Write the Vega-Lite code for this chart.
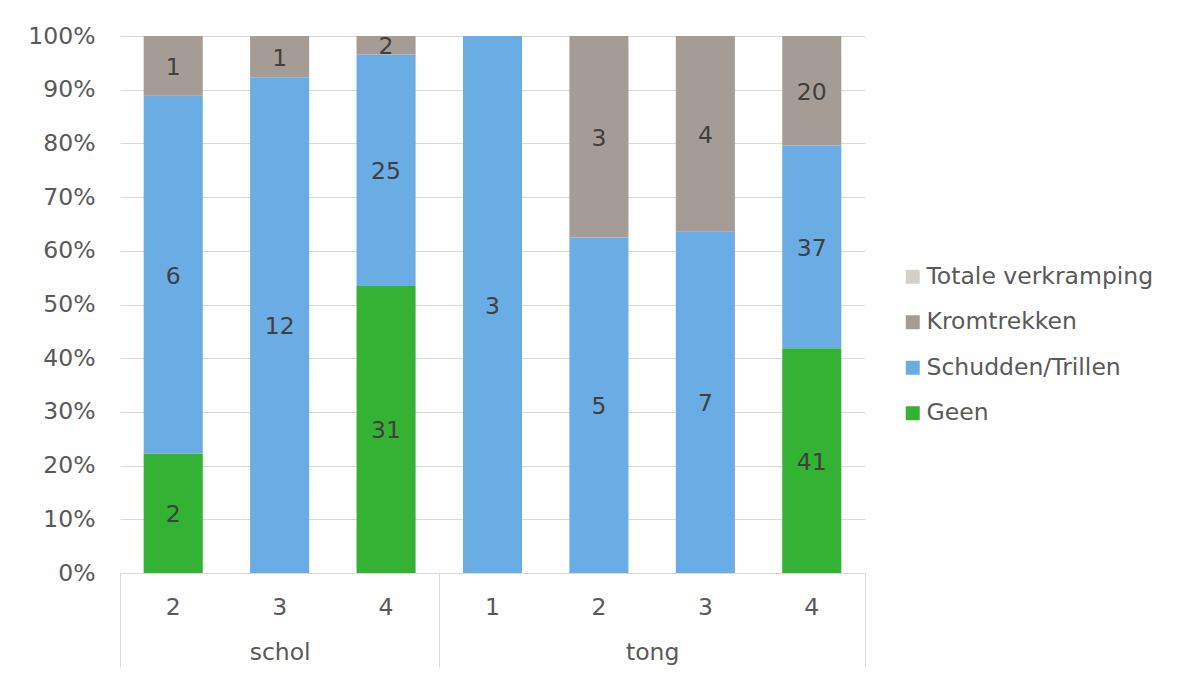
{
  "$schema": "https://vega.github.io/schema/vega-lite/v6.json",
  "width": 745,
  "height": 537,
  "autosize": {"type": "none"},
  "padding": {"left": 120, "top": 36, "right": 317, "bottom": 104},
  "background": "white",
  "config": {"font": "DejaVu Sans", "view": {"stroke": null}},
  "datasets": {
    "cats": [
      {"cat": "Geen", "rank": 1},
      {"cat": "Schudden/Trillen", "rank": 2},
      {"cat": "Kromtrekken", "rank": 3},
      {"cat": "Totale verkramping", "rank": 4}
    ]
  },
  "data": {
    "values": [
      {"key": "schol|2", "cat": "Geen", "n": 2},
      {"key": "schol|2", "cat": "Schudden/Trillen", "n": 6},
      {"key": "schol|2", "cat": "Kromtrekken", "n": 1},
      {"key": "schol|3", "cat": "Schudden/Trillen", "n": 12},
      {"key": "schol|3", "cat": "Kromtrekken", "n": 1},
      {"key": "schol|4", "cat": "Geen", "n": 31},
      {"key": "schol|4", "cat": "Schudden/Trillen", "n": 25},
      {"key": "schol|4", "cat": "Kromtrekken", "n": 2},
      {"key": "tong|1", "cat": "Schudden/Trillen", "n": 3},
      {"key": "tong|2", "cat": "Schudden/Trillen", "n": 5},
      {"key": "tong|2", "cat": "Kromtrekken", "n": 3},
      {"key": "tong|3", "cat": "Schudden/Trillen", "n": 7},
      {"key": "tong|3", "cat": "Kromtrekken", "n": 4},
      {"key": "tong|4", "cat": "Geen", "n": 41},
      {"key": "tong|4", "cat": "Schudden/Trillen", "n": 37},
      {"key": "tong|4", "cat": "Kromtrekken", "n": 20}
    ]
  },
  "layer": [
    {
      "transform": [
        {"lookup": "cat", "from": {"data": {"name": "cats"}, "key": "cat", "fields": ["rank"]}}
      ],
      "layer": [
        {
          "mark": {"type": "bar"},
          "encoding": {
            "x": {
              "field": "key", "type": "nominal",
              "scale": {"paddingInner": 0.445, "paddingOuter": 0.2225},
              "axis": {
                "title": null, "labelExpr": "split(datum.value, '|')[1]",
                "labelAngle": 0, "labelFontSize": 23.5, "labelColor": "#595959",
                "ticks": false, "tickSize": 0, "labelPadding": 22,
                "domainColor": "#d9d9d9", "domainWidth": 1, "grid": false
              }
            },
            "y": {
              "field": "n", "type": "quantitative", "stack": "normalize",
              "scale": {"domain": [0, 1], "nice": false},
              "axis": {
                "title": null, "format": ".0%",
                "values": [0, 0.1, 0.2, 0.3, 0.4, 0.5, 0.6, 0.7, 0.8, 0.9, 1],
                "labelFontSize": 23.5, "labelColor": "#595959",
                "domain": false, "ticks": false, "labelPadding": 25,
                "grid": true, "gridColor": "#d9d9d9", "gridWidth": 1
              }
            },
            "order": {"field": "rank", "type": "quantitative", "sort": "ascending"},
            "color": {
              "field": "cat", "type": "nominal",
              "sort": ["Totale verkramping", "Kromtrekken", "Schudden/Trillen", "Geen"],
              "scale": {
                "domain": ["Totale verkramping", "Kromtrekken", "Schudden/Trillen", "Geen"],
                "range": ["#d4d0c8", "#a59d95", "#69ade4", "#34b233"]
              },
              "legend": {
                "title": null, "orient": "none", "legendX": 781, "legendY": 229,
                "direction": "vertical", "symbolType": "square", "symbolSize": 196,
                "symbolStrokeWidth": 0, "labelFontSize": 23.5, "labelColor": "#595959",
                "labelOffset": 2, "rowPadding": 20.5, "labelLimit": 500
              }
            }
          }
        },
        {
          "mark": {"type": "text", "fontSize": 23.5, "baseline": "middle", "color": "#404040", "dy": 2},
          "encoding": {
            "x": {"field": "key", "type": "nominal"},
            "y": {"field": "n", "type": "quantitative", "stack": "normalize", "bandPosition": 0.5},
            "text": {"field": "n", "type": "quantitative"},
            "detail": {"field": "cat", "type": "nominal"},
            "order": {"field": "rank", "type": "quantitative", "sort": "ascending"}
          }
        }
      ]
    },
    {
      "data": {"values": [{"grp": "schol", "mid": 1.5}, {"grp": "tong", "mid": 5}]},
      "mark": {"type": "rule", "opacity": 0},
      "encoding": {
        "x": {
          "field": "mid", "type": "quantitative",
          "scale": {"domain": [0, 7], "nice": false, "zero": false},
          "axis": {
            "orient": "bottom", "title": null, "values": [1.5, 5],
            "labelExpr": "datum.value < 3 ? 'schol' : 'tong'",
            "labelFontSize": 23.5, "labelColor": "#595959",
            "domain": false, "ticks": false, "tickSize": 0, "grid": false,
            "labelPadding": 67
          }
        }
      }
    },
    {
      "data": {"values": [{"edge": 0}, {"edge": 3}, {"edge": 7}]},
      "mark": {"type": "rule", "opacity": 0},
      "encoding": {
        "x": {
          "field": "edge", "type": "quantitative",
          "scale": {"domain": [0, 7], "nice": false, "zero": false},
          "axis": {
            "orient": "bottom", "title": null, "values": [0, 3, 7],
            "labels": false, "domain": false, "ticks": true,
            "tickSize": 94, "tickColor": "#d9d9d9", "tickWidth": 1, "grid": false
          }
        }
      }
    }
  ],
  "resolve": {"scale": {"x": "independent"}, "axis": {"x": "independent"}}
}
